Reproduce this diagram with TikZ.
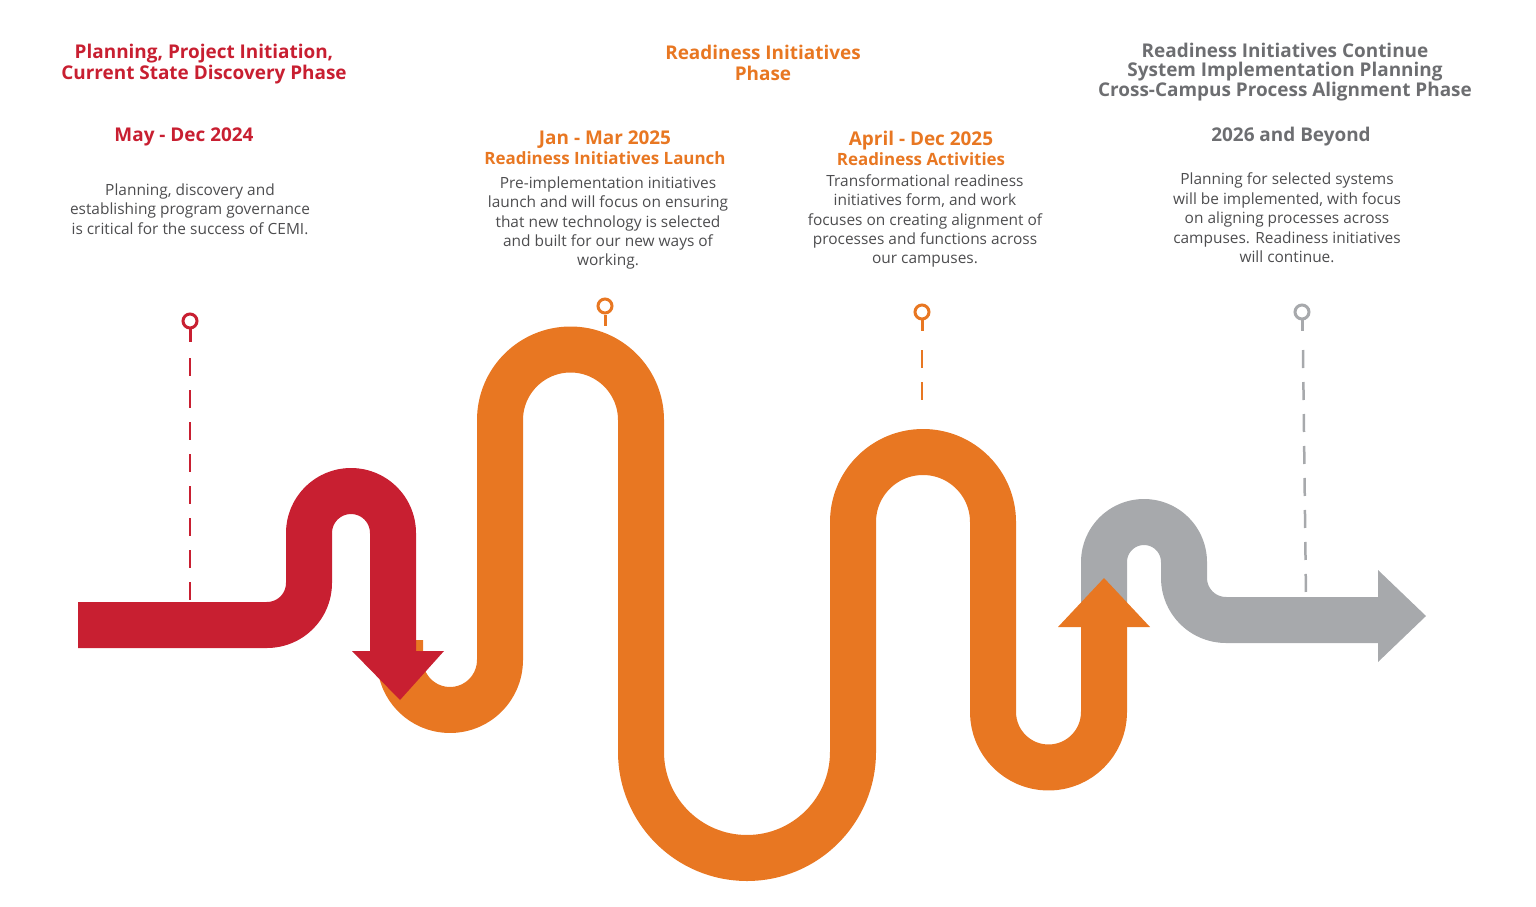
\documentclass[tikz,border=0pt]{standalone}
\usepackage{fontspec}
\setmainfont{Open Sans}
\definecolor{cred}{HTML}{C81F31}
\definecolor{corange}{HTML}{E87722}
\definecolor{cgray}{HTML}{A7A9AC}
\definecolor{cdark}{HTML}{6D6E71}
\definecolor{cbody}{HTML}{4D4D4F}
\begin{document}
\begin{tikzpicture}[x=1bp,y=-1bp,
  band/.style={line width=46bp,line cap=butt,line join=round},
  ttl/.style={font=\fontsize{19}{21}\selectfont\bfseries,align=center,inner sep=0},
  body/.style={font=\fontsize{15.5}{19.5}\selectfont,text=cbody,align=center,inner sep=0},
  pin/.style={line width=3bp},
  dline/.style={line width=2.5bp,dash pattern=on 18bp off 14bp}]
\useasboundingbox (0,0) rectangle (1536,906);
% gray
\draw[band,cgray] (1104,612) -- (1104,562) arc[start angle=180,end angle=360,radius=40] -- (1184,578) arc[start angle=180,end angle=90,radius=42] -- (1380,620);
\fill[cgray] (1378,570) -- (1426,616) -- (1378,662) -- cycle;
% orange
\draw[band,corange] (400,640) -- (400,660) arc[start angle=180,end angle=0,radius=50] -- (500,420) arc[start angle=180,end angle=360,radius=70.5] -- (641,752) arc[start angle=180,end angle=0,radius=106] -- (853,522) arc[start angle=180,end angle=360,radius=70] -- (993,712) arc[start angle=180,end angle=0,radius=55.5] -- (1104,625);
\fill[corange] (1058,627) -- (1104,578) -- (1150,627) -- cycle;
% red
\draw[band,cred] (78,625) -- (267,625) arc[start angle=90,end angle=0,radius=42] -- (309,533) arc[start angle=180,end angle=360,radius=42] -- (393,653);
\fill[cred] (352,651) -- (444,651) -- (400,700) -- cycle;
% pins
\draw[dline,cred] (190,358) -- (190,603);
\draw[pin,cred] (190,329) -- (190,342); \draw[pin,cred,fill=white] (190,321) circle (7);
\draw[pin,corange] (605,315) -- (605,326); \draw[pin,corange,fill=white] (605,306) circle (7);
\draw[dline,corange] (922,350) -- (922,412);
\draw[pin,corange] (922,320) -- (922,331); \draw[pin,corange,fill=white] (922,312) circle (7);
\draw[dline,cgray] (1303,350) -- (1306,598);
\draw[pin,cgray] (1302,320) -- (1302,331); \draw[pin,cgray,fill=white] (1302,312) circle (7);
% titles
\node[ttl,text=cred] (t1) at (204,64) {Planning, Project Initiation,\\Current State Discovery Phase};
\node[ttl,text=corange] (t2) at (763,63) {Readiness Initiatives\\Phase};
\node[ttl,text=cdark,font=\fontsize{19}{19.5}\selectfont\bfseries] (t3) at (1285,72) {Readiness Initiatives Continue\\System Implementation Planning\\Cross-Campus Process Alignment Phase};
\node[ttl,text=cred] (d1) at (184,137) {May - Dec 2024};
\node[ttl,text=corange,font=\fontsize{19}{22}\selectfont\bfseries] (d2) at (605,148) {Jan - Mar 2025\\[-2pt]{\fontsize{17}{20}\selectfont Readiness Initiatives Launch}};
\node[ttl,text=corange,font=\fontsize{19}{22}\selectfont\bfseries] (d3) at (921,148) {April - Dec 2025\\[-2pt]{\fontsize{17}{20}\selectfont Readiness Activities}};
\node[ttl,text=cdark] (d4) at (1291,137) {2026 and Beyond};
\node[body] (b1) at (190,209) {Planning, discovery and\\establishing program governance\\is critical for the success of CEMI.};
\node[body] (b2) at (608,223) {Pre-implementation initiatives\\launch and will focus on ensuring\\that new technology is selected\\and built for our new ways of\\working.};
\node[body] (b3) at (925,221) {Transformational readiness\\initiatives form, and work\\focuses on creating alignment of\\processes and functions across\\our campuses.};
\node[body] (b4) at (1287,218) {Planning for selected systems\\will be implemented, with focus\\on aligning processes across\\campuses. Readiness initiatives\\will continue.};
\end{tikzpicture}
\end{document}
